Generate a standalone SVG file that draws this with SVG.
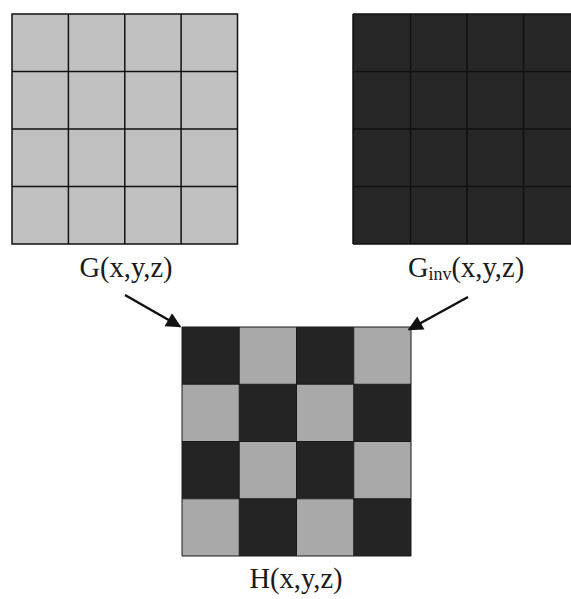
<svg xmlns="http://www.w3.org/2000/svg" width="571" height="599" viewBox="0 0 571 599">
<defs>
<style>
.lbl{font-family:"Liberation Serif","Times New Roman",serif;font-size:28.5px;fill:#1a1a1a}
.sub{font-size:18px}
.ln{stroke:#111;stroke-width:1.5;fill:none}
.lt{fill:#c0c0c0}
.dk{fill:#262626}
.hl{fill:#a9a9a9}
.hd{fill:#242424}
.arr{stroke:#111;stroke-width:2.5;fill:none}
</style>
<marker id="ah" viewBox="0 0 10 10" refX="9" refY="5" markerWidth="6.5" markerHeight="6" orient="auto" markerUnits="strokeWidth">
<path d="M0,0 L10,5 L0,10 z" fill="#111"/>
</marker>
</defs>
<rect width="571" height="599" fill="#fff"/>
<g id="G">
<rect class="lt" x="12" y="14" width="225.5" height="230"/>
<path class="ln" d="M12,14H237.5V244H12Z M68.4,14V244 M124.8,14V244 M181.1,14V244 M12,71.5H237.5 M12,129H237.5 M12,186.5H237.5"/>
<text class="lbl" x="126" y="277" text-anchor="middle">G(x,y,z)</text>
</g>
<g id="Ginv">
<rect class="dk" x="353" y="14" width="230" height="230"/>
<path class="ln" d="M353,14H583 M353,244H583 M353,14V244 M410.5,14V244 M467,14V244 M523.5,14V244 M353,71.5H583 M353,129H583 M353,186.5H583" stroke="#0a0a0a"/>
<text class="lbl" x="408" y="277">G<tspan class="sub" dy="3">inv</tspan><tspan dy="-3">(x,y,z)</tspan></text>
</g>
<g id="H">
<rect class="hd" x="182" y="327" width="57.25" height="57.25"/>
<rect class="hl" x="239.25" y="327" width="57.25" height="57.25"/>
<rect class="hd" x="296.5" y="327" width="57.25" height="57.25"/>
<rect class="hl" x="353.75" y="327" width="57.25" height="57.25"/>
<rect class="hl" x="182" y="384.25" width="57.25" height="57.25"/>
<rect class="hd" x="239.25" y="384.25" width="57.25" height="57.25"/>
<rect class="hl" x="296.5" y="384.25" width="57.25" height="57.25"/>
<rect class="hd" x="353.75" y="384.25" width="57.25" height="57.25"/>
<rect class="hd" x="182" y="441.5" width="57.25" height="57.25"/>
<rect class="hl" x="239.25" y="441.5" width="57.25" height="57.25"/>
<rect class="hd" x="296.5" y="441.5" width="57.25" height="57.25"/>
<rect class="hl" x="353.75" y="441.5" width="57.25" height="57.25"/>
<rect class="hl" x="182" y="498.75" width="57.25" height="57.25"/>
<rect class="hd" x="239.25" y="498.75" width="57.25" height="57.25"/>
<rect class="hl" x="296.5" y="498.75" width="57.25" height="57.25"/>
<rect class="hd" x="353.75" y="498.75" width="57.25" height="57.25"/>
<path d="M182,327H411V556H182Z M239.25,327V556 M296.5,327V556 M353.75,327V556 M182,384.25H411 M182,441.5H411 M182,498.75H411" stroke="#1a1a1a" stroke-width="1" fill="none"/>
<text class="lbl" x="296" y="588" text-anchor="middle">H(x,y,z)</text>
</g>
<g id="connectors">
<line class="arr" x1="125" y1="295" x2="180" y2="326.5" marker-end="url(#ah)"/>
<line class="arr" x1="468" y1="297" x2="409" y2="329.5" marker-end="url(#ah)"/>
</g>
</svg>
